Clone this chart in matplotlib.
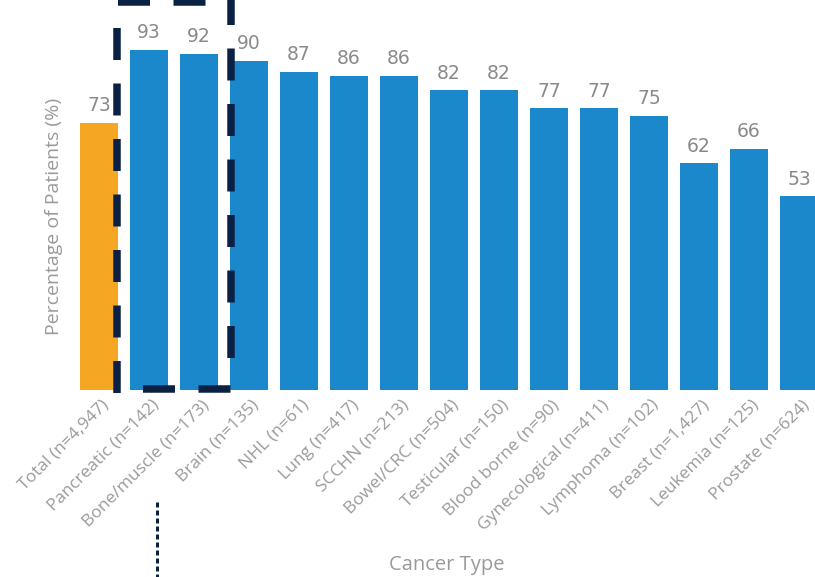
import matplotlib
matplotlib.use("Agg")
import matplotlib.pyplot as plt
from matplotlib.lines import Line2D
import matplotlib.transforms as mtransforms

categories = ["Total (n=4,947)", "Pancreatic (n=142)", "Bone/muscle (n=173)",
              "Brain (n=135)", "NHL (n=61)", "Lung (n=417)", "SCCHN (n=213)",
              "Bowel/CRC (n=504)", "Testicular (n=150)", "Blood borne (n=90)",
              "Gynecological (n=411)", "Lymphoma (n=102)", "Breast (n=1,427)",
              "Leukemia (n=125)", "Prostate (n=624)"]
values = [73, 93, 92, 90, 87, 86, 86, 82, 82, 77, 77, 75, 62, 66, 53]

ORANGE = "#F5A623"
BLUE = "#1A88CA"
NAVY = "#0B2144"
LABEL_GRAY = "#8A8A8A"
TICK_GRAY = "#9A9A9A"

plt.rcParams["lines.scale_dashes"] = False

W, H = 815, 577
PX = 0.72  # points per pixel at 100 dpi
fig = plt.figure(figsize=(W / 100, H / 100), dpi=100)
# axes: x from pixel 74 to right edge, y baseline at pixel 390 up to top edge
ax = fig.add_axes([74 / W, (H - 390) / H, (W - 74) / W, 390 / H])
ax.set_xlim(-0.5, (W - 74) / 50 - 0.5)
ax.set_ylim(0, 390 / 3.656)

x = list(range(len(categories)))
colors = [ORANGE] + [BLUE] * (len(categories) - 1)
ax.bar(x, values, width=0.76, color=colors, zorder=2)

for xi, v in zip(x, values):
    ax.annotate(str(v), (xi, v), xytext=(0, 5.5), textcoords="offset points",
                ha="center", va="bottom", fontsize=13.5, color=LABEL_GRAY,
                fontfamily="DejaVu Sans")

for s in ax.spines.values():
    s.set_visible(False)
ax.set_yticks([])
ax.set_xticks(x)
ax.set_xticklabels(categories, rotation=45, ha="right", va="top",
                   rotation_mode="anchor", fontsize=12.5, color=TICK_GRAY,
                   fontfamily="Open Sans")
ax.tick_params(axis="x", length=0, pad=5)
offset = mtransforms.ScaledTranslation(2 / 100, 0, fig.dpi_scale_trans)
for lab in ax.get_xticklabels():
    lab.set_transform(lab.get_transform() + offset)

fig.text(54 / W, 1 - 216 / H, "Percentage of Patients (%)", rotation=90,
         ha="center", va="center", fontsize=14, color=TICK_GRAY,
         fontfamily="Open Sans")
fig.text(447 / W, 1 - 565 / H, "Cancer Type", ha="center", va="center",
         fontsize=14.5, color=TICK_GRAY, fontfamily="Open Sans")


def fig_line(p0, p1, lw, dash, gap, color=NAVY):
    """Dashed line between two points given in pixels from the top-left."""
    ln = Line2D([p0[0] / W, p1[0] / W], [1 - p0[1] / H, 1 - p1[1] / H],
                transform=fig.transFigure, color=color, linewidth=lw * PX,
                linestyle=(0, (dash * PX, gap * PX)), solid_capstyle="butt",
                dash_capstyle="butt", zorder=5)
    fig.add_artist(ln)


# dashed highlight box around the two leading cancer types
box_l, box_r, box_t, box_b = 117, 231, 2, 389
fig_line((box_l, box_b + 4), (box_l, 20), 7.5, 32, 23.5)
fig_line((box_r, 358), (box_r, 0), 7.5, 32, 23.5)
fig_line((143, box_b), (box_r + 3, box_b), 7.5, 32, 23.5)
fig_line((box_l + 1, box_t), (box_r, box_t), 7.5, 32, 23.5)

# dotted pointer line below the box
fig_line((157, 502), (157, H), 3, 5, 3)

fig.savefig("out.png", dpi=100)
